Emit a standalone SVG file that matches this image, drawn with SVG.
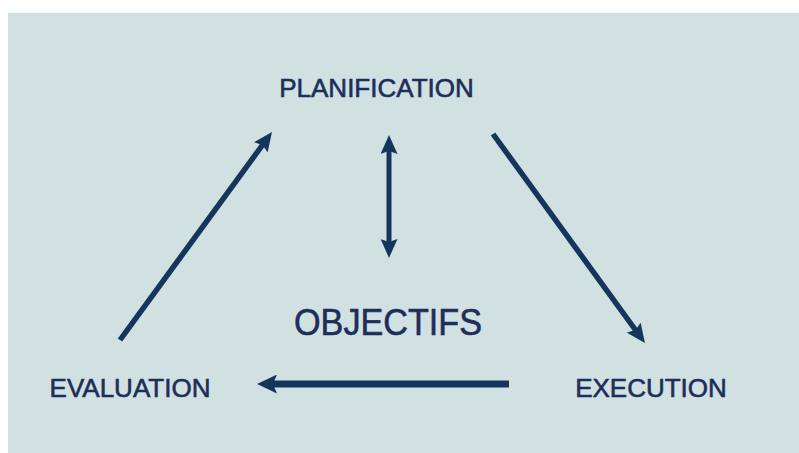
<svg xmlns="http://www.w3.org/2000/svg" width="799" height="453" viewBox="0 0 799 453">
  <defs>
    <style>
      .lbl { font-family: "Liberation Sans", Arial, sans-serif; fill: #1d2e5b; stroke: #1d2e5b; stroke-width: 0.6; text-anchor: middle; }
      .conn { stroke: #15365c; fill: none; stroke-linecap: butt; }
    </style>
    <marker id="head" markerUnits="userSpaceOnUse" markerWidth="19" markerHeight="17" refX="6" refY="8.5" orient="auto-start-reverse" viewBox="0 0 19 17">
      <path d="M0,0 L19,8.5 L0,17 L3,8.5 z" fill="#15365c"/>
    </marker>
    <marker id="headL" markerUnits="userSpaceOnUse" markerWidth="20" markerHeight="19" refX="6" refY="9.5" orient="auto" viewBox="0 0 20 19">
      <path d="M0,0 L20,9.5 L0,19 L4,9.5 z" fill="#15365c"/>
    </marker>
  </defs>
  <rect x="0" y="0" width="799" height="453" fill="#ffffff"/>
  <rect x="8" y="13" width="791" height="440" fill="#d1e1e1"/>

  <g id="connectors">
    <line class="conn" x1="120" y1="340" x2="264.3" y2="142.5" stroke-width="5.5" marker-end="url(#head)"/>
    <line class="conn" x1="493" y1="134" x2="637.3" y2="332.5" stroke-width="5.5" marker-end="url(#head)"/>
    <line class="conn" x1="389" y1="148" x2="389" y2="245" stroke-width="5" marker-start="url(#head)" marker-end="url(#head)"/>
    <line class="conn" x1="509" y1="384" x2="271" y2="384" stroke-width="7" marker-end="url(#headL)"/>
  </g>

  <g id="planification">
    <text class="lbl" x="376.5" y="97" font-size="26">PLANIFICATION</text>
  </g>
  <g id="objectifs">
    <text class="lbl" x="388" y="335" font-size="37" textLength="188" lengthAdjust="spacingAndGlyphs">OBJECTIFS</text>
  </g>
  <g id="evaluation">
    <text class="lbl" x="130" y="397" font-size="26">EVALUATION</text>
  </g>
  <g id="execution">
    <text class="lbl" x="651" y="397" font-size="26">EXECUTION</text>
  </g>
</svg>
